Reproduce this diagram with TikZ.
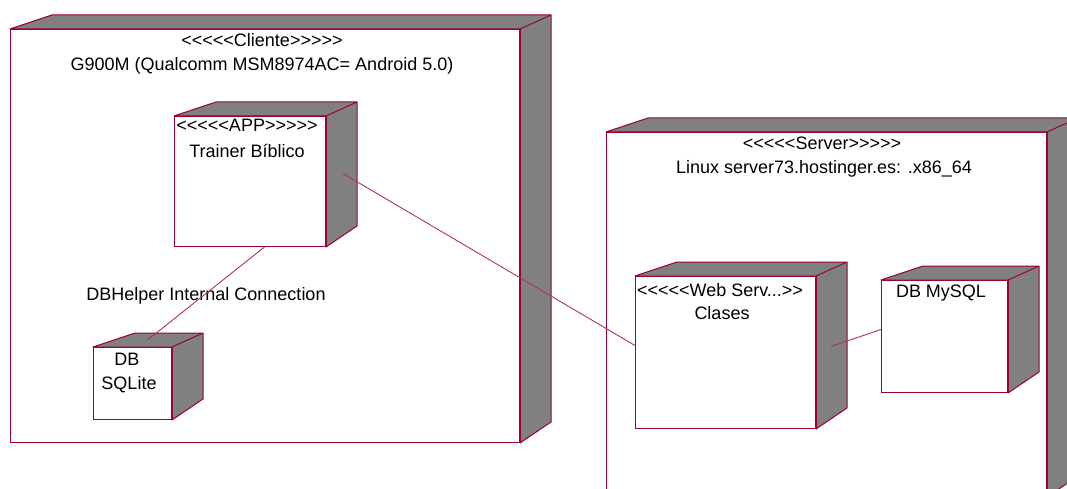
\documentclass[tikz,border=0pt]{standalone}
\usepackage{fontspec}
\setmainfont{Liberation Sans}[Ligatures=TeXOff]
\usepackage{tikz}
\usetikzlibrary{calc}
\definecolor{roseline}{RGB}{155,0,55}
\definecolor{cubegray}{RGB}{128,128,128}

\tikzset{
  cubefront/.style={draw=roseline, line width=1pt, fill=white, inner sep=0pt, anchor=north west},
  nodetext/.style={font=\fontsize{18}{23}\selectfont, inner sep=0pt, anchor=base},
  link/.style={draw=roseline!80, line width=0.9pt},
}
% grey top and right faces of a node box
\newcommand{\cubesides}[1]{%
  \filldraw[fill=cubegray, draw=roseline, line width=1pt, line join=round]
    (#1.north west) -- ++(42,-14) -- ($(#1.north east)+(31,-14)$) -- (#1.north east) -- cycle
    (#1.north east) -- ++(31,-14) -- ($(#1.south east)+(31,-21)$) -- (#1.south east) -- cycle;
  \draw[roseline, line width=2.5pt] (#1.north east) -- (#1.south east);
}

\begin{document}
\begin{tikzpicture}[x=1pt, y=-1pt]
    \useasboundingbox (0,0) rectangle (1067,489);
    \clip (0,0) rectangle (1067,489);
    \fill[white] (0,0) rectangle (1067,489);

    %% client device
    \node[cubefront, minimum width=509, minimum height=413] (cliente) at (10,29) {};
    \cubesides{cliente}
    \node[cubefront, minimum width=151, minimum height=130] (app) at (174,116) {};
    \cubesides{app}
    \node[cubefront, minimum width=78, minimum height=72] (sqlite) at (93,347) {};
    \cubesides{sqlite}

    \node[nodetext] (clienteStereo) at (262,47) {<<<<<Cliente>>>>>};
    \node[nodetext] (clienteName) at (262,71) {G900M (Qualcomm MSM8974AC= Android 5.0)};
    \node[nodetext] (appStereo) at (247,132) {<<<<<APP>>>>>};
    \node[nodetext] (appName) at (247,157.5) {Trainer Bíblico};
    \node[nodetext] (helperLabel) at (206,300) {DBHelper Internal Connection};
    \node[nodetext] (sqliteTop) at (127,365.5) {DB};
    \node[nodetext] (sqliteName) at (129,389) {SQLite};

    %% server
    \node[cubefront, minimum width=440, minimum height=364] (server) at (606,132) {};
    \cubesides{server}
    \node[cubefront, minimum width=180, minimum height=152] (web) at (635,276) {};
    \cubesides{web}
    \node[cubefront, minimum width=126, minimum height=112] (mysql) at (881,280) {};
    \cubesides{mysql}

    \node[nodetext] (serverStereo) at (822,150) {<<<<<Server>>>>>};
    \node[nodetext] (serverName) at (824,174) {Linux server73.hostinger.es: .x86\_64};
    \node[nodetext] (webStereo) at (720,296.5) {<<<<<Web Serv...>>};
    \node[nodetext] (webName) at (722,319) {Clases};
    \node[nodetext] (mysqlName) at (941,297) {DB MySQL};

    %% connections
    \draw[link] ([xshift=14.5pt]app.south) -- ([xshift=15pt,yshift=7pt]sqlite.north);
    \draw[link] ([xshift=17pt,yshift=8pt]app.east) -- ([yshift=7pt]web.west);
    \draw[link] ([xshift=15pt,yshift=6pt]web.east) -- ([yshift=7pt]mysql.west);
\end{tikzpicture}
\end{document}
